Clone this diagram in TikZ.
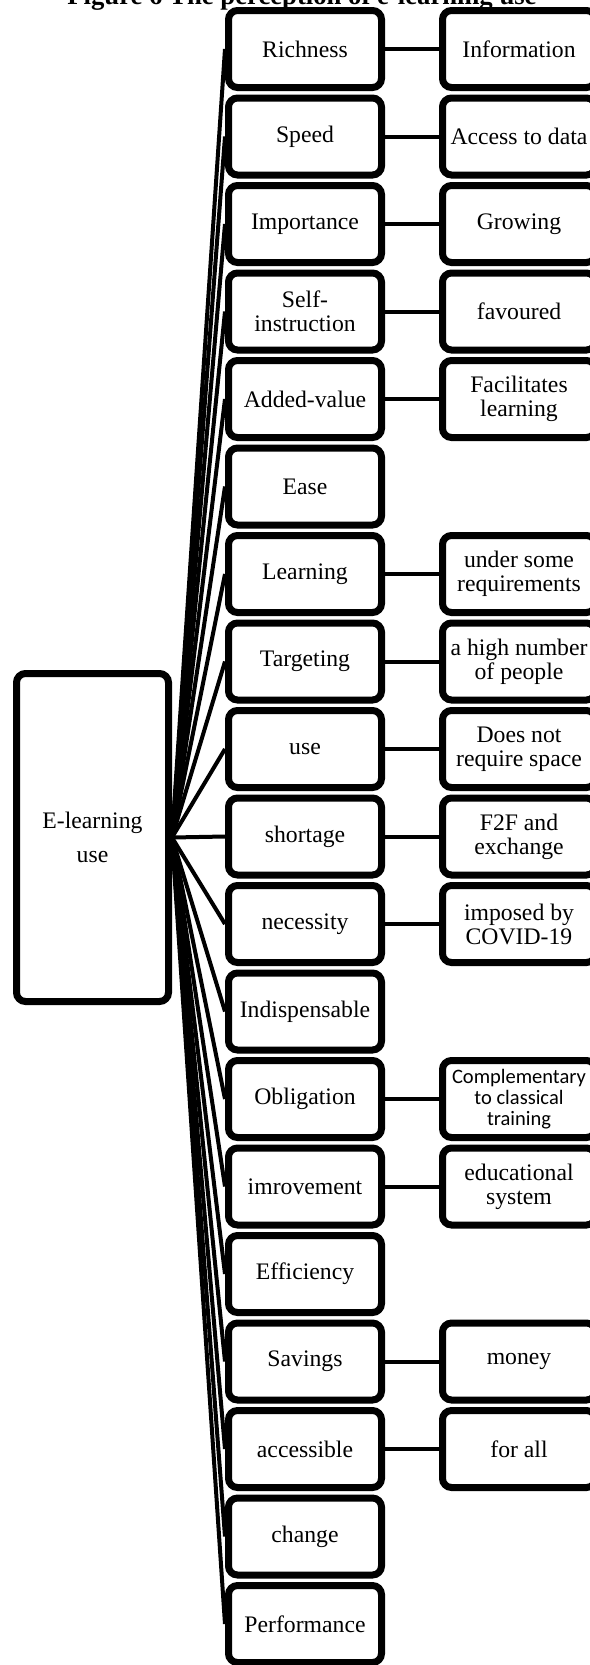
\documentclass[tikz,border=0pt]{standalone}
\usepackage{fontspec}
\setmainfont{Liberation Serif}
\newfontfamily\calib{Carlito}
\usetikzlibrary{shadows,backgrounds}
\tikzset{
  box/.style={draw=black, line width=7pt, rounded corners=9pt, fill=white,
    minimum width=153pt, minimum height=77pt, inner sep=0pt, align=center,
    font=\fontsize{23.7}{24}\selectfont,
    drop shadow={shadow xshift=1pt, shadow yshift=-3pt, opacity=0.25}},
  rootbox/.style={box, minimum width=152pt, minimum height=328pt,
    font=\fontsize{23.7}{34}\selectfont},
  link/.style={draw=black, line width=4pt},
  fan/.style={draw=black, line width=4pt},
}
\begin{document}
\begin{tikzpicture}[x=1pt,y=1pt]
\useasboundingbox (0,0) rectangle (589,-1665);
\node[anchor=base, font=\fontsize{26.7}{28}\selectfont\bfseries] (title) at (302,-5) {Figure 6 The perception of e-learning use};
\node[rootbox] (root) at (92.5,-837.5) {E-learning\\use};
% middle column
\node[box] (m0) at (305,-49) {Richness};
\node[box] (m1) at (305,-136.5) {Speed};
\node[box] (m2) at (305,-224) {Importance};
\node[box] (m3) at (305,-311.5) {Self-\\instruction};
\node[box] (m4) at (305,-399) {Added-value};
\node[box] (m5) at (305,-486.5) {Ease};
\node[box] (m6) at (305,-574) {Learning};
\node[box] (m7) at (305,-661.5) {Targeting};
\node[box] (m8) at (305,-749) {use};
\node[box] (m9) at (305,-836.5) {shortage};
\node[box] (m10) at (305,-924) {necessity};
\node[box] (m11) at (305,-1011.5) {Indispensable};
\node[box] (m12) at (305,-1099) {Obligation};
\node[box] (m13) at (305,-1186.5) {imrovement};
\node[box] (m14) at (305,-1274) {Efficiency};
\node[box] (m15) at (305,-1361.5) {Savings};
\node[box] (m16) at (305,-1449) {accessible};
\node[box] (m17) at (305,-1536.5) {change};
\node[box] (m18) at (305,-1624) {Performance};
% right column
\node[box] (r0) at (519,-49) {Information};
\node[box] (r1) at (519,-136.5) {Access to data};
\node[box] (r2) at (519,-224) {Growing};
\node[box] (r3) at (519,-311.5) {favoured};
\node[box] (r4) at (519,-399) {Facilitates\\learning};
\node[box] (r6) at (519,-574) {under some\\requirements};
\node[box] (r7) at (519,-661.5) {a high number\\of people};
\node[box] (r8) at (519,-749) {Does not\\require space};
\node[box] (r9) at (519,-836.5) {F2F and\\exchange};
\node[box] (r10) at (519,-924) {imposed by\\COVID-19};
\node[box, font=\calib\fontsize{20.5}{21}\selectfont] (r12) at (519,-1099) {Complementary\\to classical\\training};
\node[box] (r13) at (519,-1186.5) {educational\\system};
\node[box] (r15) at (519,-1361.5) {money};
\node[box] (r16) at (519,-1449) {for all};
\begin{scope}[on background layer]
\foreach \i in {0,...,18} {\draw[fan] (root.east) -- (m\i.west);}
\foreach \i in {0,1,2,3,4,6,7,8,9,10,12,13,15,16} {\draw[link] (m\i.east) -- (r\i.west);}
\end{scope}
\end{tikzpicture}
\end{document}
